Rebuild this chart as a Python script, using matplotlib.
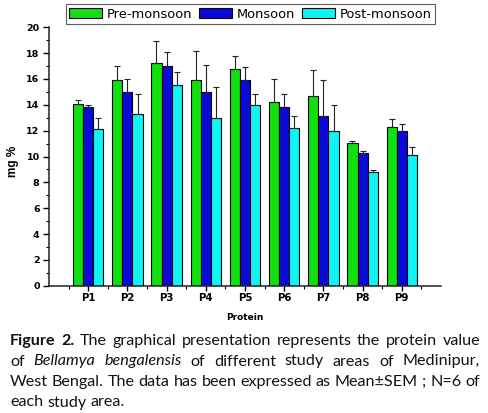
import numpy as np
import matplotlib
matplotlib.use("Agg")
import matplotlib.pyplot as plt
from matplotlib.ticker import MultipleLocator, FixedLocator

# data
sites = ["P1", "P2", "P3", "P4", "P5", "P6", "P7", "P8", "P9"]
seasons = ["Pre-monsoon", "Monsoon", "Post-monsoon"]
pre_mean = [14.1, 15.9, 17.2, 15.9, 16.75, 14.2, 14.65, 11.05, 12.25]
pre_sem = [0.3, 1.1, 1.75, 2.25, 1.05, 1.8, 2.05, 0.15, 0.65]
mon_mean = [13.8, 15.0, 17.0, 15.0, 15.95, 13.8, 13.15, 10.25, 12.0]
mon_sem = [0.15, 1.0, 1.05, 2.05, 1.0, 1.0, 2.75, 0.2, 0.55]
post_mean = [12.1, 13.3, 15.5, 13.0, 14.0, 12.2, 12.0, 8.8, 10.15]
post_sem = [0.85, 1.55, 1.05, 2.4, 0.85, 0.95, 2.0, 0.15, 0.55]
colors = ["#10e010", "#0a0ad6", "#10f4f4"]

caption = [
    [("Figure", "b"), ("2.", "b"), ("The", "n"), ("graphical", "n"), ("presentation", "n"),
     ("represents", "n"), ("the", "n"), ("protein", "n"), ("value", "n")],
    [("of", "n"), ("Bellamya", "i"), ("bengalensis", "i"), ("of", "n"), ("different", "n"),
     ("study", "n"), ("areas", "n"), ("of", "n"), ("Medinipur,", "n")],
    [("West", "n"), ("Bengal.", "n"), ("The", "n"), ("data", "n"), ("has", "n"), ("been", "n"),
     ("expressed", "n"), ("as", "n"), ("Mean±SEM", "n"), (";", "n"), ("N=6", "n"), ("of", "n")],
    [("each", "n"), ("study", "n"), ("area.", "n")],
]

W, H = 489, 413
fig = plt.figure(figsize=(W / 100, H / 100), dpi=100)
ax = fig.add_axes([49 / W, 1 - 285.7 / H, 392 / W, (285.7 - 27.3) / H])

x = np.arange(1, len(sites) + 1)
bw = 0.26
series = [(pre_mean, pre_sem), (mon_mean, mon_sem), (post_mean, post_sem)]
for i, (m, e) in enumerate(series):
    xs = x + (i - 1) * bw
    ax.bar(xs, m, bw, color=colors[i], edgecolor="black", linewidth=0.8,
           label=seasons[i], zorder=2)
    ax.errorbar(xs, m, yerr=[np.zeros(len(e)), e], fmt="none", ecolor="#222222",
                elinewidth=0.8, capsize=2.4, capthick=0.8, zorder=3)

ax.set_xlim(0, 10)
ax.set_ylim(0, 20)
ax.spines["top"].set_visible(False)
ax.spines["right"].set_visible(False)
for s in ["left", "bottom"]:
    ax.spines[s].set_linewidth(1.1)
    ax.spines[s].set_color("#222222")

ax.yaxis.set_major_locator(MultipleLocator(2))
ax.yaxis.set_minor_locator(MultipleLocator(1))
ax.set_xticks(x)
ax.set_xticklabels(sites)
ax.xaxis.set_minor_locator(FixedLocator(np.arange(0.5, 10, 1.0)))
ax.tick_params(axis="y", which="major", length=4.3, width=1, pad=2.5)
ax.tick_params(axis="y", which="minor", length=2.2, width=0.8)
ax.tick_params(axis="x", which="major", length=3.5, width=1, pad=2)
ax.tick_params(axis="x", which="minor", length=2.2, width=0.8)
for lab in ax.get_yticklabels():
    lab.set_fontfamily("DejaVu Sans")
    lab.set_fontweight("bold")
    lab.set_fontsize(6.8)
for lab in ax.get_xticklabels():
    lab.set_fontfamily("DejaVu Sans")
    lab.set_fontweight("bold")
    lab.set_fontsize(7.3)

fig.text(13 / W, 1 - 161 / H, "mg %", rotation=90, ha="center", va="center",
         fontsize=8.5, fontweight="bold", family="Liberation Sans")
fig.text(245 / W, 1 - 318 / H, "Protein", ha="center", va="center",
         fontsize=6.5, fontweight="bold", family="DejaVu Sans")

leg = fig.legend(loc="upper center", bbox_to_anchor=(250.5 / W, 1 - 4.5 / H), ncol=3,
                 handlelength=2.5, handleheight=0.8, handletextpad=0.4,
                 columnspacing=0.5, borderpad=0.25, borderaxespad=0, frameon=True,
                 fancybox=False, edgecolor="#333333", prop={"family": "DejaVu Sans", "size": 9.4})
leg.get_frame().set_linewidth(0.8)

# justified caption
r = fig.canvas.get_renderer()
left, right = 10, 480
baselines = [345, 365.5, 386, 406.5]
cap_font = "Lato"
cap_size = 11.6
for li, words in enumerate(caption):
    texts = []
    for w, st in words:
        t = fig.text(0, 0, w, fontsize=cap_size, family=cap_font, color="#111111",
                     fontweight="bold" if st == "b" else "normal",
                     fontstyle="italic" if st == "i" else "normal",
                     va="baseline", ha="left")
        texts.append(t)
    widths = [t.get_window_extent(r).width for t in texts]
    if li < len(caption) - 1:
        gap = (right - left - sum(widths)) / (len(texts) - 1)
    else:
        gap = cap_size * 100 / 72 * 0.24
    xp = left
    for t, wd in zip(texts, widths):
        t.set_position((xp / W, 1 - baselines[li] / H))
        xp += wd + gap

fig.savefig("out.png", dpi=100)
